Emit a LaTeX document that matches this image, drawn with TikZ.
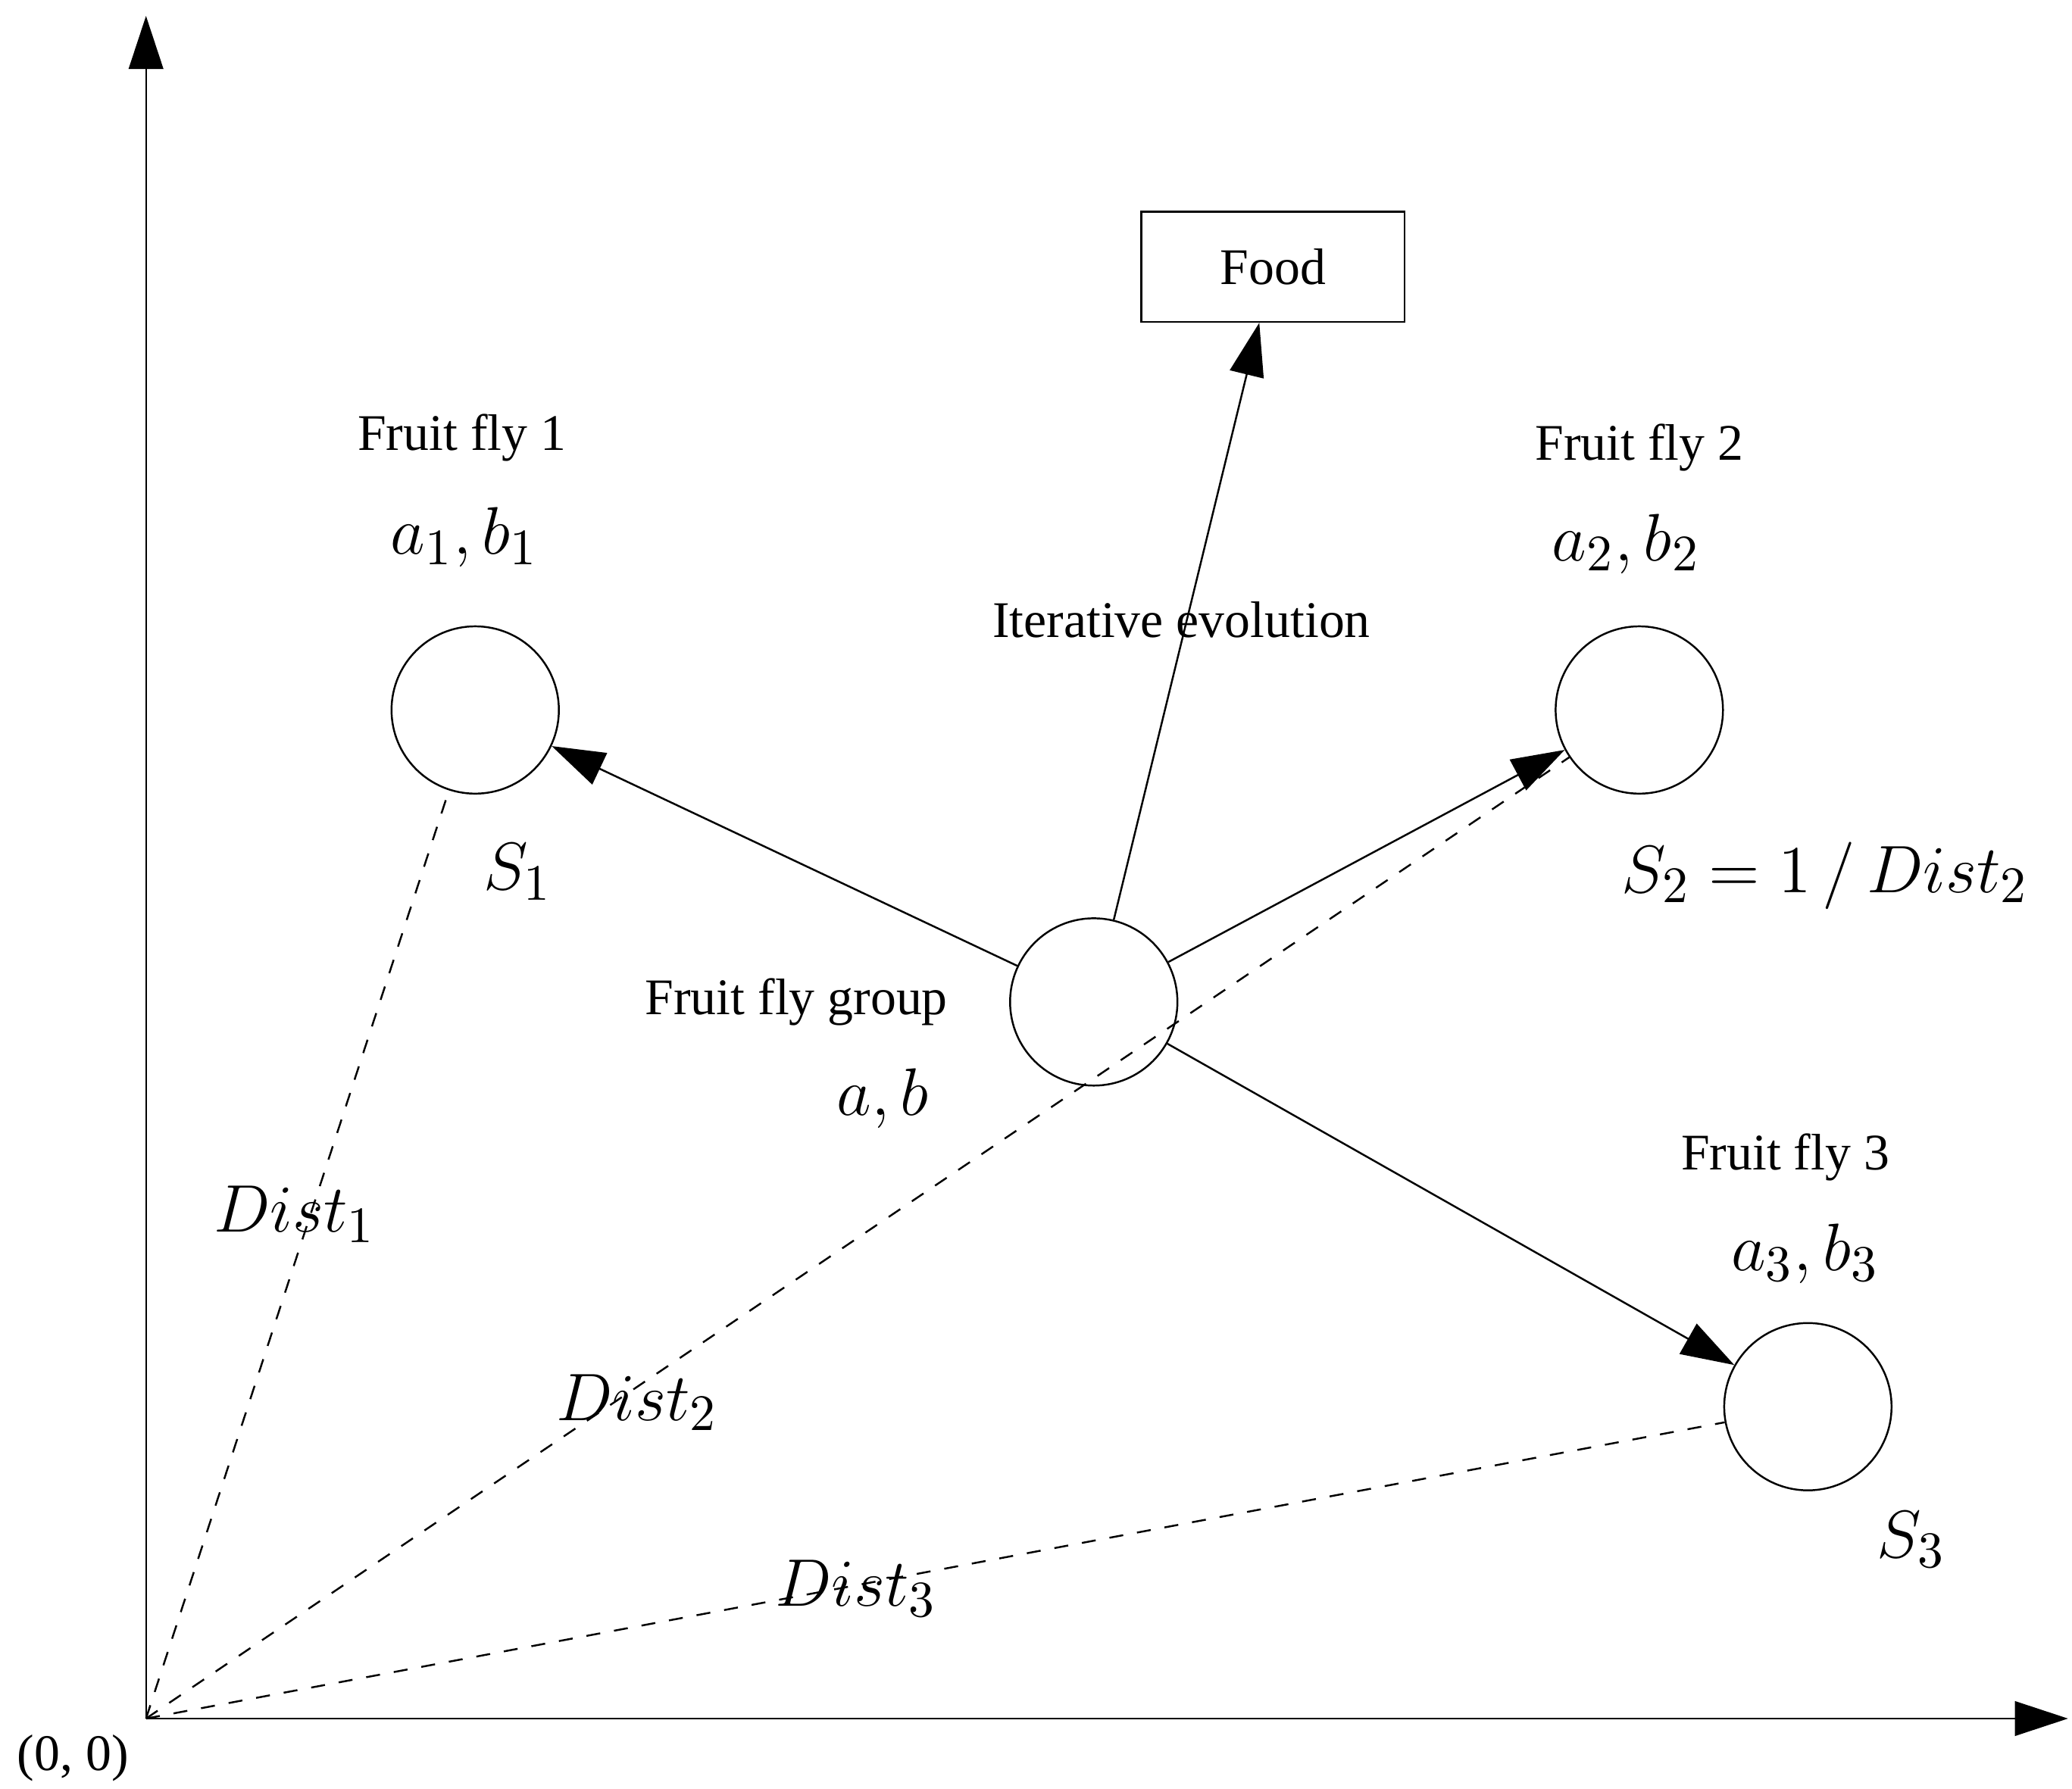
\documentclass[tikz,border=0pt]{standalone}
\usepackage{fontspec}
\setmainfont{Liberation Serif}
\usetikzlibrary{arrows.meta}
\begin{document}
\begin{tikzpicture}[x=0.01cm,y=-0.01cm,
  fly/.style={circle,draw,minimum size=1.26cm,inner sep=0pt},
  lbl/.style={font=\fontsize{11}{13}\selectfont},
  mlbl/.style={font=\fontsize{15}{17}\selectfont},
  arr/.style={-{Triangle[length=4mm,width=2.6mm]}},
  dist/.style={dashed}]
\useasboundingbox (0,0) rectangle (1561,1348);
% axes
\coordinate (o) at (110,1295);
\coordinate (ytop) at (110,12);
\coordinate (xend) at (1558,1295);
\draw[arr] (o) -- (ytop);
\draw[arr] (o) -- (xend);
\node[lbl] (orig) at (55,1325) {(0, 0)};
% nodes
\node[draw,minimum width=1.98cm,minimum height=0.83cm,lbl] (food) at (959,201) {Food};
\node[fly] (f1) at (358,535) {};
\node[fly] (f2) at (1235,535) {};
\node[fly] (g) at (824,755) {};
\node[fly] (f3) at (1362,1060) {};
% connectors
\draw[arr] (g) -- (f1);
\draw[arr] (g) -- (f2);
\draw[arr] (g) -- (f3);
\draw[arr] (g) -- (food);
\draw[dist] (o) -- (f1);
\draw[dist] (o) -- (f2);
\draw[dist] (o) -- (f3);
% labels
\node[lbl] (t1) at (348,330) {Fruit fly 1};
\node[mlbl] (p1) at (350,405) {$a_1,b_1$};
\node[mlbl] (s1) at (390,657) {$S_1$};
\node[lbl] (t2) at (1235,337) {Fruit fly 2};
\node[mlbl] (p2) at (1225,410) {$a_2,b_2$};
\node[mlbl] (s2) at (1375,660) {$S_2=1\,/\,Dist_2$};
\node[lbl] (it) at (890,467) {Iterative evolution};
\node[lbl] (tg) at (600,755) {Fruit fly group};
\node[mlbl] (pg) at (665,828) {$a,b$};
\node[lbl] (t3) at (1345,872) {Fruit fly 3};
\node[mlbl] (p3) at (1360,945) {$a_3,b_3$};
\node[mlbl] (s3) at (1440,1160) {$S_3$};
\node[mlbl] (d1) at (222,915) {$Dist_1$};
\node[mlbl] (d2) at (480,1057) {$Dist_2$};
\node[mlbl] (d3) at (645,1197) {$Dist_3$};
\end{tikzpicture}
\end{document}
